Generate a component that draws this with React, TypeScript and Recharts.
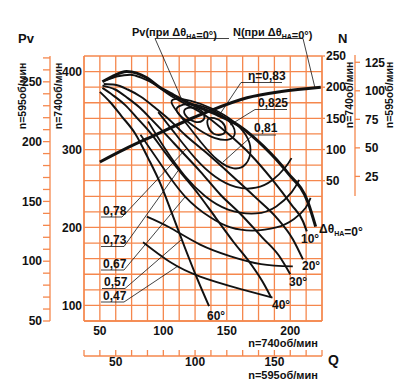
import React from "react";
import { ComposedChart, Line, XAxis, YAxis, CartesianGrid } from "recharts";

// Q at n=740 rpm and Pv at n=740 rpm, one pair of arrays per guide-vane angle
const q0 = [52, 60, 71, 79, 87, 97, 108, 121, 139, 161, 179, 198, 214, 220];
const pv0 = [387, 394, 400, 398, 392, 380, 370, 359, 347, 329, 304, 270, 232, 201];
const q10 = [55, 64, 74, 83, 94, 105, 117, 132, 149, 169, 186, 201, 210, 213];
const pv10 = [389, 394, 396, 392, 383, 370, 359, 345, 323, 293, 261, 229, 208, 195];
const q20 = [53, 62, 72, 82, 94, 105, 117, 133, 153, 173, 189, 202, 210];
const pv20 = [384, 383, 377, 368, 353, 338, 319, 297, 268, 238, 213, 185, 159];
const q30 = [52, 62, 72, 82, 91, 101, 113, 129, 145, 161, 178, 191, 200];
const pv30 = [382, 377, 366, 353, 338, 321, 300, 272, 242, 217, 187, 164, 140];
const q40 = [52, 60, 70, 79, 90, 101, 113, 128, 141, 155, 169, 178, 185];
const pv40 = [379, 370, 357, 341, 321, 297, 272, 242, 213, 182, 153, 131, 110];
const q60 = [50, 58, 67, 78, 88, 98, 107, 117, 127, 136];
const pv60 = [374, 361, 343, 320, 289, 255, 217, 174, 133, 99];

// power N at n=740 (0 deg)
const qN = [50, 70, 90, 133, 166, 193, 224];
const nN = [80, 101, 120, 159, 183, 193, 200];

// efficiency contours (Q, Pv)
const qE83a = [115, 121, 129, 133, 132, 125, 118];
const pE83a = [351, 355, 352, 345, 336, 334, 341];
const qE83b = [134, 140, 147, 150, 147, 139, 135];
const pE83b = [341, 341, 336, 325, 318, 319, 328];
const qE825 = [110, 123, 139, 153, 158, 153, 141, 128, 117, 110];
const pE825 = [356, 360, 351, 337, 321, 311, 313, 325, 338, 348];
const qE81 = [105, 117, 129, 143, 156, 166, 170, 166, 155, 139, 121, 107];
const pE81 = [360, 336, 310, 284, 273, 279, 300, 319, 338, 353, 364, 366];
const qE78 = [96, 109, 125, 141, 157, 173, 186, 196, 201];
const pE78 = [348, 321, 289, 265, 252, 251, 261, 277, 289];
const qE73 = [88, 101, 117, 133, 151, 173, 189, 201, 207];
const pE73 = [336, 302, 266, 240, 223, 218, 227, 245, 261];
const qE67 = [82, 98, 117, 137, 153, 170, 189, 203, 212, 216];
const pE67 = [319, 281, 240, 213, 200, 196, 200, 211, 225, 238];
const qE57 = [87, 105, 129, 153, 177, 202];
const pE57 = [214, 200, 178, 163, 153, 150];
const qE47 = [84, 105, 129, 161, 186];
const pE47 = [181, 156, 137, 121, 110];

// axis ticks
const range = (a: number, b: number, s: number) => {
  const out: number[] = [];
  for (let v = a; v <= b + 1e-9; v += s) out.push(Math.round(v * 100) / 100);
  return out;
};
const q740Ticks = range(37.5, 225, 12.5);
const q740Labels = [50, 100, 150, 200];
const q595Ticks = range(30, 180, 10);
const q595Labels = [50, 100, 150];
const pv740Ticks = range(80, 420, 20);
const pv740Labels = [100, 200, 300, 400];
const pv595Ticks = range(50, 270, 10);
const pv595Labels = [50, 100, 150, 200, 250];
const n740Ticks = [50, 100, 150, 200, 250];
const n595Ticks = [25, 50, 75, 100, 125];

const zip = (xs: number[], ys: number[]) => xs.map((q, i) => ({ q, v: ys[i] }));

const ORANGE = "#f5874d";
const INK = "#111";
const FONT = "'Liberation Sans', Arial, sans-serif";
const tickStyle = { fill: INK, fontSize: 12, fontWeight: 700, fontFamily: FONT };

const pvCurves = [
  { key: "a0", data: zip(q0, pv0), w: 3 },
  { key: "a10", data: zip(q10, pv10), w: 2 },
  { key: "a20", data: zip(q20, pv20), w: 2 },
  { key: "a30", data: zip(q30, pv30), w: 2 },
  { key: "a40", data: zip(q40, pv40), w: 2 },
  { key: "a60", data: zip(q60, pv60), w: 2 },
];

const etaCurves = [
  { key: "e83a", data: zip(qE83a, pE83a), type: "basisClosed" },
  { key: "e83b", data: zip(qE83b, pE83b), type: "basisClosed" },
  { key: "e825", data: zip(qE825, pE825), type: "basisClosed" },
  { key: "e81", data: zip(qE81, pE81), type: "basisClosed" },
  { key: "e78", data: zip(qE78, pE78), type: "natural" },
  { key: "e73", data: zip(qE73, pE73), type: "natural" },
  { key: "e67", data: zip(qE67, pE67), type: "natural" },
  { key: "e57", data: zip(qE57, pE57), type: "natural" },
  { key: "e47", data: zip(qE47, pE47), type: "natural" },
];

// bottom n=595 axis: ticks point up from the axis line, labels below it
function renderQ595Tick(props: any) {
  const { x, y, payload } = props;
  const v = payload.value;
  return (
    <g key={`q595-${v}`}>
      <line x1={x} x2={x} y1={y - 6} y2={y} stroke={ORANGE} strokeWidth={1.3} />
      {q595Labels.includes(v) && (
        <text x={x} y={y + 10} textAnchor="middle" {...tickStyle}>
          {v}
        </text>
      )}
    </g>
  );
}

const lbl = (v: number, keep: number[]) => (keep.includes(v) ? String(v) : "");

function Sub({ children }: { children: string }) {
  return (
    <>
      <tspan fontSize={7} dy={3}>
        {children}
      </tspan>
      <tspan dy={-3}></tspan>
    </>
  );
}

function Overlay() {
  const t = { fontFamily: FONT, fontWeight: 700, fill: INK } as const;
  const thin = { stroke: INK, strokeWidth: 0.8 };
  return (
    <svg
      width={404}
      height={382}
      style={{ position: "absolute", left: 0, top: 0, pointerEvents: "none" }}
    >
      <text x={18} y={43} fontSize={13} {...t}>Pv</text>
      <text transform="translate(26,96) rotate(-90)" textAnchor="middle" fontSize={10.5} {...t}>n=595об/мин</text>
      <text transform="translate(62,96) rotate(-90)" textAnchor="middle" fontSize={10.5} {...t}>n=740об/мин</text>
      <text x={338} y={43} fontSize={13} {...t}>N</text>
      <text transform="translate(353,95) rotate(-90)" textAnchor="middle" fontSize={10.5} {...t}>n=740об/мин</text>
      <text transform="translate(393,95) rotate(-90)" textAnchor="middle" fontSize={10.5} {...t}>n=595об/мин</text>
      <line x1={355} x2={355} y1={55} y2={196} stroke={ORANGE} strokeWidth={1.3} />
      <text x={328} y={365} fontSize={14} {...t}>Q</text>
      <text x={283} y={347} textAnchor="middle" fontSize={11} {...t}>n=740об/мин</text>
      <text x={283} y={379} textAnchor="middle" fontSize={11} {...t}>n=595об/мин</text>

      <text x={132} y={36} fontSize={11} {...t}>
        Pv(при Δθ<Sub>НА</Sub>=0°)
      </text>
      <line x1={155} y1={38.5} x2={229} y2={38.5} {...thin} />
      <line x1={155} y1={38.5} x2={182} y2={100} {...thin} />
      <text x={233} y={36} fontSize={11} {...t}>
        N(при Δθ<Sub>НА</Sub>=0°)
      </text>
      <line x1={238} y1={38.5} x2={303} y2={38.5} {...thin} />
      <line x1={303} y1={38.5} x2={315} y2={88} {...thin} />

      <text x={248} y={80} fontSize={12} {...t}>η=0,83</text>
      <line x1={241} y1={82.5} x2={282} y2={82.5} {...thin} />
      <line x1={241} y1={82.5} x2={218} y2={117} {...thin} />
      <text x={258} y={107} fontSize={12} {...t}>0,825</text>
      <line x1={255} y1={109.5} x2={287} y2={109.5} {...thin} />
      <line x1={255} y1={109.5} x2={230} y2={125} {...thin} />
      <text x={254} y={132} fontSize={12} {...t}>0,81</text>
      <line x1={253} y1={135} x2={276} y2={135} {...thin} />
      <line x1={253} y1={135} x2={223} y2={162} {...thin} />

      <text x={103} y={215} fontSize={12} {...t}>0,78</text>
      <line x1={101} y1={217} x2={122} y2={217} {...thin} />
      <line x1={122} y1={217} x2={186} y2={149} {...thin} />
      <text x={103} y={244} fontSize={12} {...t}>0,73</text>
      <line x1={101} y1={246.5} x2={124} y2={246.5} {...thin} />
      <line x1={124} y1={246.5} x2={180} y2={168} {...thin} />
      <text x={103} y={268} fontSize={12} {...t}>0,67</text>
      <line x1={101} y1={270} x2={124} y2={270} {...thin} />
      <line x1={124} y1={270} x2={185} y2={197} {...thin} />
      <text x={104} y={286} fontSize={12} {...t}>0,57</text>
      <line x1={102} y1={288.5} x2={125} y2={288.5} {...thin} />
      <line x1={125} y1={288.5} x2={181} y2={240} {...thin} />
      <text x={103} y={300} fontSize={12} {...t}>0,47</text>
      <line x1={101} y1={302} x2={124} y2={302} {...thin} />
      <line x1={124} y1={302} x2={178} y2={266} {...thin} />

      <text x={319} y={233} fontSize={12} {...t}>
        Δθ<Sub>НА</Sub>=0°
      </text>
      <text x={301} y={243} fontSize={12} {...t}>10°</text>
      <text x={302} y={270} fontSize={12} {...t}>20°</text>
      <text x={289} y={286} fontSize={12} {...t}>30°</text>
      <text x={272} y={309} fontSize={12} {...t}>40°</text>
      <text x={207} y={320} fontSize={12} {...t}>60°</text>
    </svg>
  );
}

// axis ids: recharts stacks same-side axes by id order, so inner ids sort first
export default function App() {
  return (
    <div style={{ position: "absolute", left: 0, top: 0, width: 404, height: 382, background: "#fff" }}>
      <ComposedChart width={404} height={382} margin={{ top: 56, right: 9, bottom: 1, left: 20 }}>
        <CartesianGrid xAxisId="qIn" yAxisId="pvIn" stroke={ORANGE} strokeWidth={1.3} />
        <XAxis
          xAxisId="qIn"
          dataKey="q"
          type="number"
          domain={[37.5, 225]}
          ticks={q740Ticks}
          interval={0}
          allowDataOverflow
          height={35}
          stroke={ORANGE}
          strokeWidth={1.3}
          tickLine={false}
          tickSize={0}
          tickMargin={5}
          tick={tickStyle}
          tickFormatter={(v: number) => lbl(v, q740Labels)}
        />
        <XAxis
          xAxisId="qOut"
          dataKey="q"
          type="number"
          domain={[30, 180]}
          ticks={q595Ticks}
          interval={0}
          allowDataOverflow
          height={25}
          stroke={ORANGE}
          strokeWidth={1.3}
          tickLine={false}
          tickSize={0}
          tickMargin={0}
          tick={renderQ595Tick}
        />
        <YAxis
          yAxisId="pvIn"
          type="number"
          domain={[80, 420]}
          ticks={pv740Ticks}
          interval={0}
          allowDataOverflow
          width={34}
          stroke={ORANGE}
          strokeWidth={1.3}
          tickLine={false}
          tickSize={0}
          tickMargin={2}
          tick={tickStyle}
          tickFormatter={(v: number) => lbl(v, pv740Labels)}
        />
        <YAxis
          yAxisId="pvOut"
          type="number"
          domain={[50, 271.6]}
          ticks={pv595Ticks}
          interval={0}
          allowDataOverflow
          width={30}
          stroke={ORANGE}
          strokeWidth={1.3}
          tickSize={7}
          tickMargin={1}
          tick={tickStyle}
          tickFormatter={(v: number) => lbl(v, pv595Labels)}
        />
        <YAxis
          yAxisId="nIn"
          orientation="right"
          type="number"
          domain={[-175, 250]}
          ticks={n740Ticks}
          interval={0}
          allowDataOverflow
          width={33}
          stroke={ORANGE}
          strokeWidth={1.3}
          tickSize={3}
          tickMargin={1}
          tick={tickStyle}
        />
        <YAxis
          yAxisId="nOut"
          orientation="right"
          type="number"
          domain={[-101.7, 130.5]}
          ticks={n595Ticks}
          interval={0}
          allowDataOverflow
          width={40}
          stroke={ORANGE}
          strokeWidth={1.3}
          axisLine={false}
          tickSize={5}
          tickMargin={5}
          tick={tickStyle}
        />
        {etaCurves.map((c) => (
          <Line
            key={c.key}
            xAxisId="qIn"
            yAxisId="pvIn"
            data={c.data}
            dataKey="v"
            type={c.type as any}
            stroke={INK}
            strokeWidth={1.8}
            dot={false}
            activeDot={false}
            isAnimationActive={false}
          />
        ))}
        {pvCurves.map((c) => (
          <Line
            key={c.key}
            xAxisId="qIn"
            yAxisId="pvIn"
            data={c.data}
            dataKey="v"
            type="monotone"
            stroke={INK}
            strokeWidth={c.w}
            dot={false}
            activeDot={false}
            isAnimationActive={false}
          />
        ))}
        <Line
          xAxisId="qIn"
          yAxisId="nIn"
          data={zip(qN, nN)}
          dataKey="v"
          type="monotone"
          stroke={INK}
          strokeWidth={3}
          dot={false}
          activeDot={false}
          isAnimationActive={false}
        />
      </ComposedChart>
      <Overlay />
    </div>
  );
}
